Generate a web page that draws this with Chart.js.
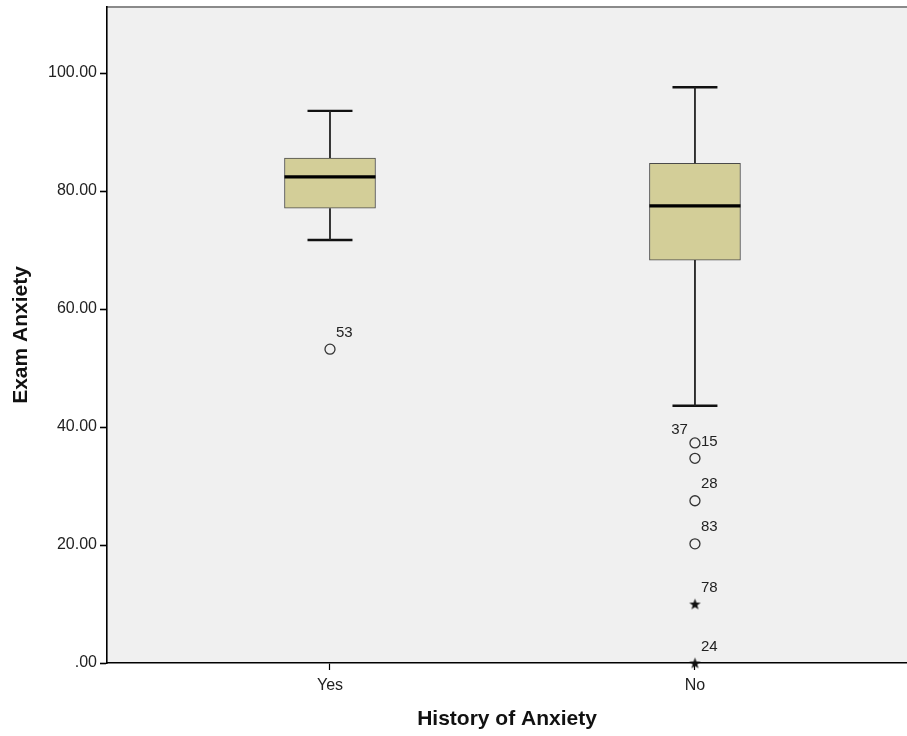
<!DOCTYPE html>
<html><head><meta charset="utf-8">
<script src="https://cdn.jsdelivr.net/npm/chart.js@4.4.1/dist/chart.umd.min.js"></script>
<style>html,body{margin:0;padding:0;background:#fff;overflow:hidden}#wrap{width:907px;height:736px}canvas{display:block}</style>
</head><body><div id="wrap"><canvas id="c" width="907" height="736"></canvas></div>
<script>
// ---- data ----
const categories = ['Yes', 'No'];
const whiskerLow = [71.7, 43.6];
const q1 = [77.1, 68.3];
const median = [82.4, 77.5];
const q3 = [85.6, 84.7];
const whiskerHigh = [93.6, 97.6];
const outlierGroup = [0, 1, 1, 1, 1];
const outlierValue = [53.2, 37.3, 34.7, 27.5, 20.2];
const outlierId = ['53', '37', '15', '28', '83'];
const extremeGroup = [1, 1];
const extremeValue = [10.0, 0.0];
const extremeId = ['78', '24'];
const yTicks = [0, 20, 40, 60, 80, 100];

// ---- layout constants ----
const FONT = "'Liberation Sans', Arial, sans-serif";
const X_MIN = 0.389, X_MAX = 2.581, Y_MAX = 111.2;
const BOX_HALF = 0.1247, CAP_HALF = 0.0616;

function starImage() {
  const c = document.createElement('canvas');
  c.width = 13; c.height = 13;
  const g = c.getContext('2d');
  g.fillStyle = '#111';
  g.beginPath();
  for (let i = 0; i < 10; i++) {
    const r = i % 2 === 0 ? 6 : 2.4;
    const a = -Math.PI / 2 + i * Math.PI / 5;
    const px = 6.5 + r * Math.cos(a), py = 7 + r * Math.sin(a);
    if (i === 0) g.moveTo(px, py); else g.lineTo(px, py);
  }
  g.closePath(); g.fill();
  return c;
}

const datasets = [];
datasets.push({
  type: 'bar',
  data: categories.map((c, i) => ({ x: i + 1, y: [q1[i], q3[i]] })),
  backgroundColor: '#D3CE98',
  borderColor: '#4a4a4a',
  borderWidth: 1,
  borderSkipped: false,
  barThickness: 91,
  order: 5
});
function seg(x1, y1, x2, y2, w, col) {
  datasets.push({
    type: 'line', data: [{ x: x1, y: y1 }, { x: x2, y: y2 }],
    borderColor: col, borderWidth: w, pointRadius: 0, fill: false, order: 4, clip: false
  });
}
categories.forEach((c, i) => {
  const x = i + 1;
  seg(x, q3[i], x, whiskerHigh[i], 1.8, '#222');
  seg(x, q1[i], x, whiskerLow[i], 1.8, '#222');
  seg(x - CAP_HALF, whiskerHigh[i], x + CAP_HALF, whiskerHigh[i], 2.4, '#111');
  seg(x - CAP_HALF, whiskerLow[i], x + CAP_HALF, whiskerLow[i], 2.4, '#111');
  seg(x - BOX_HALF, median[i], x + BOX_HALF, median[i], 3.2, '#000');
});
datasets.push({
  type: 'line', showLine: false, clip: false, order: 1,
  data: outlierValue.map((v, i) => ({ x: outlierGroup[i] + 1, y: v })),
  pointStyle: 'circle', pointRadius: 5, pointBorderWidth: 1.3,
  pointBorderColor: '#333', pointBackgroundColor: 'rgba(0,0,0,0)',
  idLabels: outlierId, groups: outlierGroup
});
datasets.push({
  type: 'line', showLine: false, clip: false, order: 1,
  data: extremeValue.map((v, i) => ({ x: extremeGroup[i] + 1, y: v })),
  pointStyle: starImage(), pointRadius: 6,
  idLabels: extremeId, groups: extremeGroup
});

const bgPlugin = {
  id: 'bg',
  beforeDraw(chart) {
    const { ctx, chartArea: a } = chart;
    ctx.save();
    ctx.fillStyle = '#F0F0F0';
    ctx.fillRect(a.left, a.top, a.right - a.left, a.bottom - a.top);
    ctx.strokeStyle = '#8a8a8a';
    ctx.lineWidth = 2;
    ctx.beginPath(); ctx.moveTo(a.left, a.top); ctx.lineTo(a.right, a.top); ctx.stroke();
    ctx.restore();
  }
};
const labelPlugin = {
  id: 'ids',
  afterDatasetsDraw(chart) {
    const { ctx } = chart;
    ctx.save();
    ctx.font = '15px ' + FONT;
    ctx.fillStyle = '#222';
    ctx.textBaseline = 'bottom';
    const pts = [];
    chart.data.datasets.forEach((ds, di) => {
      if (!ds.idLabels) return;
      chart.getDatasetMeta(di).data.forEach((el, k) => pts.push({ x: el.x, y: el.y, g: ds.groups[k], t: ds.idLabels[k] }));
    });
    pts.forEach(p => {
      const crowded = pts.some(q => q !== p && q.g === p.g && q.y > p.y && q.y - p.y < 20);
      if (crowded) { ctx.textAlign = 'right'; ctx.fillText(p.t, p.x - 7, p.y - 6); }
      else { ctx.textAlign = 'left'; ctx.fillText(p.t, p.x + 6, p.y - 9); }
    });
    ctx.restore();
  }
};

new Chart(document.getElementById('c'), {
  type: 'bar',
  data: { datasets },
  plugins: [bgPlugin, labelPlugin],
  options: {
    responsive: false,
    animation: false,
    events: [],
    layout: { autoPadding: false, padding: { top: 7, right: 0, left: 0, bottom: 0 } },
    plugins: { legend: { display: false }, tooltip: { enabled: false } },
    scales: {
      x: {
        type: 'linear', min: X_MIN, max: X_MAX, offset: false,
        afterBuildTicks: s => { s.ticks = categories.map((c, i) => ({ value: i + 1 })); },
        afterFit: s => { s.height = 73; s.paddingLeft = 0; s.paddingRight = 0; },
        ticks: { callback: v => categories[v - 1] ?? '', color: '#222', font: { family: FONT, size: 16 }, padding: 6, maxRotation: 0, autoSkip: false },
        grid: { offset: false, drawOnChartArea: false, drawTicks: true, tickLength: 7, color: '#000', tickWidth: 1.2 },
        border: { display: true, color: '#000', width: 1.6 },
        title: { display: true, text: 'History of Anxiety', color: '#111', font: { family: FONT, size: 21, weight: 'bold', lineHeight: 1.2 }, padding: { top: 0, bottom: 4 } }
      },
      y: {
        type: 'linear', min: 0, max: Y_MAX,
        afterBuildTicks: s => { s.ticks = yTicks.map(v => ({ value: v })); },
        afterFit: s => { s.width = 107; s.paddingTop = 0; s.paddingBottom = 0; },
        ticks: { callback: v => v === 0 ? '.00' : v.toFixed(2), color: '#222', font: { family: FONT, size: 16 }, padding: 3 },
        grid: { drawOnChartArea: false, drawTicks: true, tickLength: 7, color: '#000', tickWidth: 1.6 },
        border: { display: true, color: '#000', width: 1.6 },
        title: { display: true, text: 'Exam Anxiety', color: '#111', font: { family: FONT, size: 21, weight: 'bold', lineHeight: 1.2 }, padding: { top: 9, bottom: 0 } }
      }
    }
  }
});
</script>
</body></html>
